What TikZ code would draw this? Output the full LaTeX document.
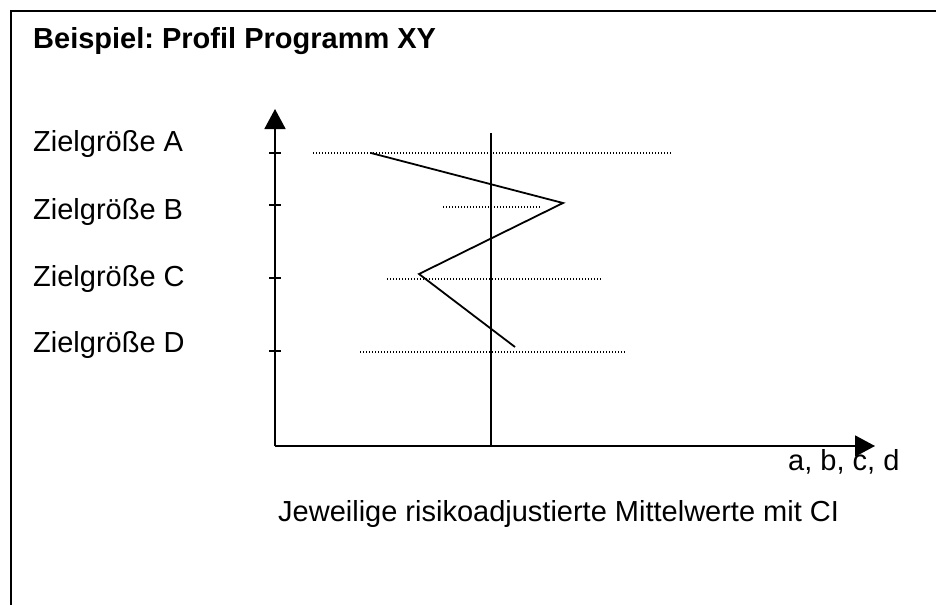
\documentclass[tikz,border=0pt]{standalone}
\usepackage{fontspec}
\setmainfont{Liberation Sans}
\usetikzlibrary{arrows.meta}
\frenchspacing

\begin{document}
\begin{tikzpicture}[x=1pt,y=-1pt,
  axisline/.style={line width=1.8pt, -{Triangle[width=21pt,length=20pt]}},
  ciline/.style={line width=1.3pt, dash pattern=on 1.3pt off 1.7pt},
  profline/.style={line width=1.8pt},
  txt/.style={anchor=base west, inner sep=0pt, font=\fontsize{29}{29}\selectfont}]
\useasboundingbox (0,0) rectangle (936,605);
% Frame and title
\draw[line width=2.2pt] (936,11) -- (11,11) -- (11,605);
\node[txt, font=\bfseries\fontsize{29}{29}\selectfont] (title) at (33,48) {Beispiel: Profil Programm XY};

% Axes
\coordinate (o) at (275,446);
\coordinate (ytip) at (275,109);
\coordinate (xtip) at (875,446);
\draw[axisline] (o) -- (ytip);
\draw[axisline] (o) -- (xtip);
\node[txt] (xlab) at (788,470) {a, b, c, d};
\node[txt] (xcap) at (278,521) {Jeweilige risikoadjustierte Mittelwerte mit CI};

% Ticks and target labels
\foreach \t/\b/\l in {153/151/A, 205/219/B, 278/286/C, 351/352/D}{
  \coordinate (tl\l) at (269,\t);
  \coordinate (tr\l) at (281,\t);
  \draw[line width=1.6pt] (tl\l) -- (tr\l);
  \node[txt] (lab\l) at (33,\b) {Zielgröße \l};
}

% Reference line
\coordinate (reftop) at (491,133);
\coordinate (refbot) at (491,446);
\draw[line width=1.8pt] (reftop) -- (refbot);

% Confidence intervals
\foreach \l/\y/\a/\e in {A/153/313/672, B/207/443/540, C/279/387/602, D/352/360/626}{
  \coordinate (cil\l) at (\a,\y);
  \coordinate (cir\l) at (\e,\y);
  \draw[ciline] (cil\l) -- (cir\l);
}

% Profile
\coordinate (mA) at (371,153);
\coordinate (mB) at (563,203);
\coordinate (mC) at (419,274);
\coordinate (mD) at (515,347);
\draw[profline] (mA) -- (mB) -- (mC) -- (mD);
\end{tikzpicture}
\end{document}
